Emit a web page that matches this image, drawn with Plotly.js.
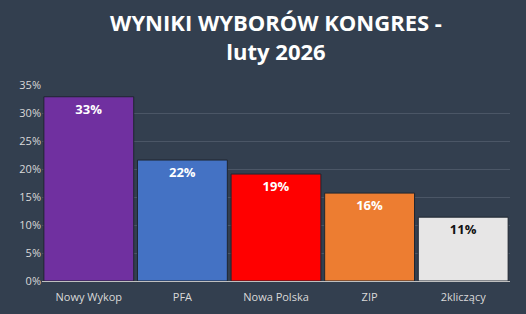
<!DOCTYPE html>
<html><head><meta charset="utf-8">
<script src="https://cdn.plot.ly/plotly-3.0.1.min.js"></script>
<style>html,body{margin:0;padding:0;background:#333f4f;}#c{width:526px;height:314px;}</style>
</head><body><div id="c"></div>
<script>
const categories = ["Nowy Wykop", "PFA", "Nowa Polska", "ZIP", "2kliczący"];
const values = [0.329, 0.216, 0.191, 0.157, 0.114];
const barColors = ["#7030a0", "#4472c4", "#ff0000", "#ed7d31", "#e7e6e6"];
const labelColors = ["#ffffff", "#ffffff", "#ffffff", "#ffffff", "#111111"];
const tickVals = [0, 0.05, 0.10, 0.15, 0.20, 0.25, 0.30, 0.35];
const tickText = ["0%", "5%", "10%", "15%", "20%", "25%", "30%", "35%"];

const trace = {
  type: "bar",
  x: categories,
  y: values,
  marker: {color: barColors, line: {color: "#1f2630", width: 1}},
  text: values.map(v => Math.round(v * 100) + "%"),
  textposition: "inside",
  insidetextanchor: "end",
  textangle: 0,
  textfont: {family: "Open Sans, sans-serif", size: 13, color: labelColors, weight: "bold"},
  cliponaxis: false,
  hoverinfo: "none"
};

const layout = {
  width: 526, height: 314,
  paper_bgcolor: "#333f4f",
  plot_bgcolor: "#333f4f",
  margin: {l: 42, r: 16, t: 85, b: 33},
  bargap: 0.04,
  showlegend: false,
  title: {
    text: "<b>WYNIKI WYBORÓW KONGRES -<br>luty 2026</b>",
    font: {family: "Open Sans, sans-serif", size: 22, color: "#ffffff"},
    x: 0.5, xanchor: "center", xref: "paper",
    yref: "container", y: 1 - 31 / 314, yanchor: "middle"
  },
  xaxis: {
    tickfont: {family: "Open Sans, sans-serif", size: 11, color: "#d9d9d9"},
    showline: true, linecolor: "#bfbfbf", linewidth: 1,
    ticks: "", showgrid: false, ticklabelstandoff: 6
  },
  yaxis: {
    range: [0, 0.35],
    tickvals: tickVals, ticktext: tickText,
    tickfont: {family: "Open Sans, sans-serif", size: 11, color: "#d9d9d9"},
    showgrid: true, gridcolor: "#4b5666", gridwidth: 1,
    zeroline: false, showline: false, ticks: ""
  }
};

Plotly.newPlot("c", [trace], layout, {displayModeBar: false, staticPlot: true});
</script>
</body></html>
